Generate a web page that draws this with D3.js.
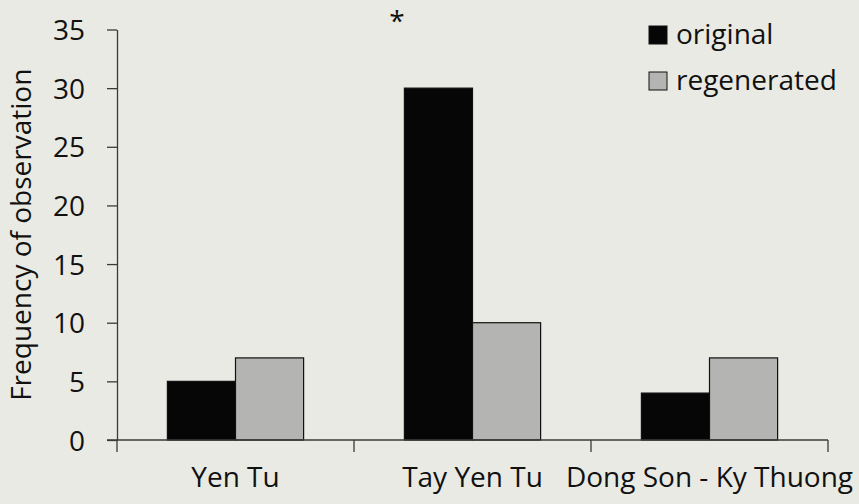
<!DOCTYPE html>
<html>
<head>
<meta charset="utf-8">
<script src="https://cdn.jsdelivr.net/npm/d3@7"></script>
<style>
  html, body { margin: 0; padding: 0; background: #e9eae4; }
  svg { display: block; }
  text { font-family: "Open Sans", "Noto Sans", sans-serif; fill: #111; }
</style>
</head>
<body>
<svg id="chart" width="859" height="504"></svg>
<script>
// Observation counts per site
const categories = ["Yen Tu", "Tay Yen Tu", "Dong Son - Ky Thuong"];
const seriesNames = ["original", "regenerated"];
const originalValues = [5, 30, 4];
const regeneratedValues = [7, 10, 7];
const yTicks = [0, 5, 10, 15, 20, 25, 30, 35];
const colors = { original: "#060606", regenerated: "#b4b4b2" };

const W = 859, H = 504;
const FONT = "28px";
const margin = { left: 117, right: 31, top: 29.5, bottom: 64 };
const svg = d3.select("#chart");

const x0 = d3.scaleBand().domain(categories)
  .range([margin.left, W - margin.right]).paddingInner(0).paddingOuter(0);
const x1 = d3.scaleBand().domain(seriesNames)
  .range([0, x0.bandwidth()]).paddingInner(0).paddingOuter(0.74);
const y = d3.scaleLinear().domain([0, 35]).range([H - margin.bottom, margin.top]);

const rows = categories.map((c, i) => ({
  category: c,
  values: [
    { key: "original", value: originalValues[i] },
    { key: "regenerated", value: regeneratedValues[i] }
  ]
}));

// Bars
const groups = svg.append("g").selectAll("g").data(rows).join("g")
  .attr("transform", d => `translate(${x0(d.category)},0)`);
groups.selectAll("rect").data(d => d.values).join("rect")
  .attr("x", d => x1(d.key))
  .attr("y", d => y(d.value))
  .attr("width", x1.bandwidth())
  .attr("height", d => y(0) - y(d.value))
  .attr("fill", d => colors[d.key])
  .attr("stroke", "#111")
  .attr("stroke-width", 1.2);

// Y axis
const yAxis = svg.append("g")
  .attr("transform", `translate(${margin.left},0)`)
  .call(d3.axisLeft(y).tickValues(yTicks).tickSize(10).tickPadding(22).tickSizeOuter(0));
yAxis.selectAll("text").style("font-size", FONT).attr("dy", "0.36em");

// X axis with ticks on band boundaries
const xAxisG = svg.append("g").attr("transform", `translate(0,${y(0)})`);
xAxisG.append("line")
  .attr("x1", margin.left - 10).attr("x2", W - margin.right)
  .attr("y1", 0).attr("y2", 0);
const boundaries = categories.map(c => x0(c)).concat([x0(categories[categories.length - 1]) + x0.bandwidth()]);
xAxisG.selectAll("line.tick").data(boundaries).join("line")
  .attr("class", "tick")
  .attr("x1", d => d).attr("x2", d => d)
  .attr("y1", 0).attr("y2", 12);
xAxisG.selectAll("text").data(categories).join("text")
  .attr("x", d => x0(d) + x0.bandwidth() / 2)
  .attr("y", 47)
  .attr("text-anchor", "middle")
  .style("font-size", FONT)
  .text(d => d);

svg.selectAll(".domain, .tick line, line").attr("stroke", "#3a3a3a").attr("stroke-width", 1.3);

// Y axis title
svg.append("text")
  .attr("transform", `translate(31,${(y(0) + y(35)) / 2}) rotate(-90)`)
  .attr("text-anchor", "middle")
  .style("font-size", FONT)
  .text("Frequency of observation");

// Significance marker
svg.append("text")
  .attr("x", 397).attr("y", 31)
  .attr("text-anchor", "middle")
  .style("font-size", FONT)
  .text("*");

// Legend
const legend = svg.append("g").attr("transform", "translate(649,26)");
seriesNames.forEach((s, i) => {
  const g = legend.append("g").attr("transform", `translate(0,${i * 46})`);
  g.append("rect").attr("width", 18).attr("height", 18)
    .attr("fill", colors[s]).attr("stroke", "#111").attr("stroke-width", 1);
  g.append("text").attr("x", 27).attr("y", 18)
    .style("font-size", FONT).text(s);
});
</script>
</body>
</html>
